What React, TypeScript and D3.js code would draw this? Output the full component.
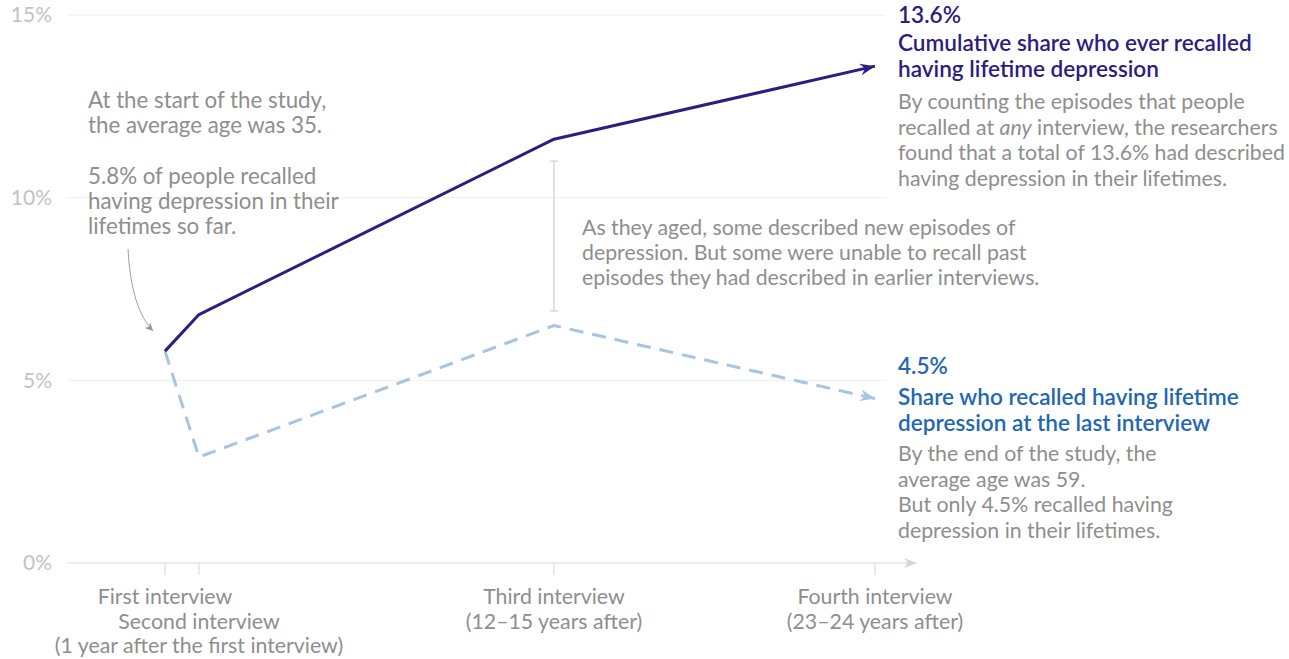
import React from "react";
import * as d3 from "d3";

const interviews = ["First", "Second", "Third", "Fourth"];
const interviewPos = [0, 1, 11.45, 20.9];
const cumulative = [5.8, 6.8, 11.6, 13.6];
const lastRecall = [5.8, 2.9, 6.5, 4.5];
const yTicks = [0, 5, 10, 15];

const tickLabelLines: string[][] = [
  ["First interview"],
  ["", "Second interview", "(1 year after the first interview)"],
  ["Third interview", "(12–15 years after)"],
  ["Fourth interview", "(23–24 years after)"],
];

const leftNote1 = ["At the start of the study,", "the average age was 35."];
const leftNote2 = ["5.8% of people recalled", "having depression in their", "lifetimes so far."];
const midNote = [
  "As they aged, some described new episodes of",
  "depression. But some were unable to recall past",
  "episodes they had described in earlier interviews.",
];
const topValue = "13.6%";
const topTitle = ["Cumulative share who ever recalled", "having lifetime depression"];
const topBody = [
  "By counting the episodes that people",
  "recalled at |any| interview, the researchers",
  "found that a total of 13.6% had described",
  "having depression in their lifetimes.",
];
const botValue = "4.5%";
const botTitle = ["Share who recalled having lifetime", "depression at the last interview"];
const botBody = [
  "By the end of the study, the",
  "average age was 59.",
  "But only 4.5% recalled having",
  "depression in their lifetimes.",
];

const W = 1289;
const H = 659;
const FONT = "Lato, 'Open Sans', sans-serif";
const NAVY = "#2c1d80";
const LIGHT = "#a5c5e3";
const BLUE = "#2367b0";
const GRAY = "#8e8e8e";

function renderRich(s: string) {
  const parts = s.split("|");
  return parts.map((p, i) =>
    i % 2 === 1 ? (
      <tspan key={i} fontStyle="italic">
        {p}
      </tspan>
    ) : (
      <tspan key={i}>{p}</tspan>
    )
  );
}

function Lines({
  lines,
  x,
  y0,
  step,
  size,
  fill,
  weight,
  anchor,
  rich,
}: {
  lines: string[];
  x: number;
  y0: number;
  step: number;
  size: number;
  fill: string;
  weight?: number;
  anchor?: string;
  rich?: boolean;
}) {
  return (
    <g>
      {lines.map((l, j) =>
        l ? (
          <text
            key={j}
            x={x}
            y={y0 + j * step}
            dy="0.35em"
            fontSize={size}
            fill={fill}
            fontWeight={weight || 400}
            textAnchor={anchor || "start"}
          >
            {rich ? renderRich(l) : l}
          </text>
        ) : null
      )}
    </g>
  );
}

export default function App() {
  const x = d3.scaleLinear().domain([0, 20.9]).range([165, 875]);
  const y = d3.scaleLinear().domain([0, 15]).range([563, 15]);

  const line = d3
    .line<number>()
    .x((_, i) => x(interviewPos[i]))
    .y((d) => y(d));

  const gridX0 = 67;
  const gridX1 = 886;
  const BODY = 21.3;
  const TITLE = 22.6;

  return (
    <svg
      width={W}
      height={H}
      style={{ position: "absolute", left: 0, top: 0, background: "#fff" }}
      fontFamily={FONT}
    >
      <defs>
        <marker id="arrNavy" viewBox="-16 -8 18 16" refX="0" refY="0" markerWidth="18" markerHeight="16" markerUnits="userSpaceOnUse" orient="auto">
          <path d="M0,0 L-15,-6 L-10,0 L-15,6 Z" fill={NAVY} />
        </marker>
        <marker id="arrLight" viewBox="-16 -8 18 16" refX="0" refY="0" markerWidth="18" markerHeight="16" markerUnits="userSpaceOnUse" orient="auto">
          <path d="M0,0 L-15,-6 L-10,0 L-15,6 Z" fill={LIGHT} />
        </marker>
        <marker id="arrAxis" viewBox="-14 -7 16 14" refX="0" refY="0" markerWidth="16" markerHeight="14" markerUnits="userSpaceOnUse" orient="auto">
          <path d="M0,0 L-13,-5 L-9,0 L-13,5 Z" fill="#d6d6d6" />
        </marker>
        <marker id="arrNote" viewBox="-10 -6 12 12" refX="0" refY="0" markerWidth="12" markerHeight="12" markerUnits="userSpaceOnUse" orient="auto">
          <path d="M0,0 L-8,-4 L-6,0 L-8,4 Z" fill="#999" />
        </marker>
      </defs>

      {/* gridlines */}
      {yTicks
        .filter((t) => t > 0)
        .map((t) => (
          <line key={t} x1={gridX0} x2={gridX1} y1={y(t)} y2={y(t)} stroke="#eeeeee" strokeWidth={1} />
        ))}
      {/* x axis */}
      <line x1={gridX0} x2={917} y1={y(0)} y2={y(0)} stroke="#dcdcdc" strokeWidth={1.2} markerEnd="url(#arrAxis)" />

      {/* y tick labels */}
      {yTicks.map((t) => (
        <text key={t} x={52} y={y(t)} dy="0.35em" textAnchor="end" fontSize={21} fill="#c2c2c2">
          {t}%
        </text>
      ))}

      {/* x ticks */}
      {interviewPos.map((p, i) => (
        <line key={i} x1={x(p)} x2={x(p)} y1={y(0)} y2={y(0) + 12} stroke="#d6d6d6" strokeWidth={1} />
      ))}
      {interviewPos.map((p, i) => (
        <Lines key={i} lines={tickLabelLines[i]} x={x(p)} y0={597} step={24.5} size={BODY} fill={GRAY} anchor="middle" />
      ))}

      {/* range bar */}
      <g stroke="#d2d2d2" strokeWidth={1.3}>
        <line x1={x(interviewPos[2])} x2={x(interviewPos[2])} y1={y(11.0)} y2={y(6.9)} />
        <line x1={x(interviewPos[2]) - 4} x2={x(interviewPos[2]) + 4} y1={y(11.0)} y2={y(11.0)} />
        <line x1={x(interviewPos[2]) - 4} x2={x(interviewPos[2]) + 4} y1={y(6.9)} y2={y(6.9)} />
      </g>

      {/* lines */}
      <path
        d={line(lastRecall) || ""}
        fill="none"
        stroke={LIGHT}
        strokeWidth={3}
        strokeDasharray="14 9"
        markerEnd="url(#arrLight)"
      />
      <path
        d={line(cumulative) || ""}
        fill="none"
        stroke={NAVY}
        strokeWidth={3}
        strokeLinejoin="round"
        markerEnd="url(#arrNavy)"
      />

      {/* left notes */}
      <Lines lines={leftNote1} x={88} y0={100} step={25} size={22.3} fill={GRAY} />
      <Lines lines={leftNote2} x={88} y0={176} step={25} size={22.3} fill={GRAY} />
      <path d="M128,249 Q131,308 153,331" fill="none" stroke="#a0a0a0" strokeWidth={1} markerEnd="url(#arrNote)" />

      {/* middle note */}
      <Lines lines={midNote} x={582} y0={228} step={25} size={BODY} fill={GRAY} />

      {/* top right */}
      <Lines lines={[topValue]} x={898} y0={15} step={26} size={TITLE} fill={NAVY} weight={600} />
      <Lines lines={topTitle} x={898} y0={43} step={26} size={TITLE} fill={NAVY} weight={600} />
      <Lines lines={topBody} x={898} y0={102} step={25.5} size={BODY} fill={GRAY} rich />

      {/* bottom right */}
      <Lines lines={[botValue]} x={898} y0={366} step={26} size={TITLE} fill={BLUE} weight={600} />
      <Lines lines={botTitle} x={898} y0={397} step={26} size={TITLE} fill={BLUE} weight={600} />
      <Lines lines={botBody} x={898} y0={454} step={25.5} size={BODY} fill={GRAY} />
    </svg>
  );
}
